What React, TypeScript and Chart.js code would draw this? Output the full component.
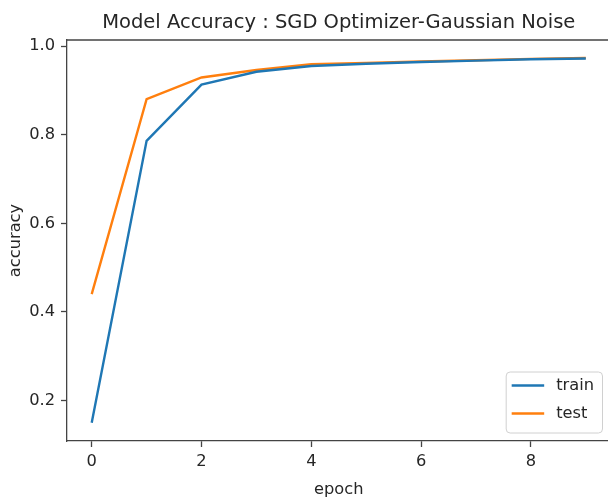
import React, { useEffect, useRef } from "react";
import { Chart, registerables } from "chart.js";

Chart.register(...registerables);

const epochs = [0, 1, 2, 3, 4, 5, 6, 7, 8, 9];
const trainAcc = [0.15, 0.786, 0.913, 0.942, 0.955, 0.96, 0.964, 0.967, 0.97, 0.972];
const testAcc = [0.44, 0.88, 0.929, 0.946, 0.959, 0.962, 0.965, 0.968, 0.971, 0.973];
const xTickValues = [0, 2, 4, 6, 8];
const yTickValues = [0.2, 0.4, 0.6, 0.8, 1.0];
const seriesLabels = ["train", "test"];
const seriesColors = ["#1f77b4", "#ff7f0e"];
const titleText = "Model Accuracy : SGD Optimizer-Gaussian Noise";
const xLabel = "epoch";
const yLabel = "accuracy";

const FAMILY = '"DejaVu Sans", "Liberation Sans", sans-serif';
const TEXT = "#262626";
const SPINE = "#444444";

const framePlugin = {
  id: "mplFrame",
  afterDatasetsDraw(chart: any) {
    const { ctx, chartArea } = chart;
    ctx.save();
    ctx.strokeStyle = SPINE;
    ctx.lineWidth = 1.3;
    ctx.beginPath();
    ctx.moveTo(chartArea.left, chartArea.top);
    ctx.lineTo(chartArea.right, chartArea.top);
    ctx.lineTo(chartArea.right, chartArea.bottom);
    ctx.stroke();
    ctx.restore();
  },
};

const legendPlugin = {
  id: "mplLegend",
  afterDraw(chart: any) {
    const { ctx, chartArea } = chart;
    const fontSize = 16.25;
    ctx.save();
    ctx.font = `${fontSize}px ${FAMILY}`;
    const textW = Math.max(...seriesLabels.map((l) => ctx.measureText(l).width));
    const pad = 0.4 * fontSize;
    const handle = 2 * fontSize;
    const gap = 0.8 * fontSize;
    const rowH = 28;
    const w = pad + handle + gap + textW + pad;
    const h = pad * 2 + rowH * seriesLabels.length - 8;
    const right = chartArea.right - 8;
    const bottom = chartArea.bottom - 8;
    const left = right - w;
    const top = bottom - h;
    ctx.beginPath();
    if ((ctx as any).roundRect) (ctx as any).roundRect(left, top, w, h, 4);
    else ctx.rect(left, top, w, h);
    ctx.fillStyle = "rgba(255,255,255,0.85)";
    ctx.fill();
    ctx.strokeStyle = "#d0d0d0";
    ctx.lineWidth = 1;
    ctx.stroke();
    seriesLabels.forEach((label, i) => {
      const cy = top + pad + 7 + i * rowH;
      ctx.strokeStyle = seriesColors[i];
      ctx.lineWidth = 2.4;
      ctx.beginPath();
      ctx.moveTo(left + pad - 1, cy);
      ctx.lineTo(left + pad - 1 + handle, cy);
      ctx.stroke();
      ctx.fillStyle = TEXT;
      ctx.textBaseline = "middle";
      ctx.textAlign = "left";
      ctx.fillText(label, left + pad + handle + gap - 2, cy);
    });
    ctx.restore();
  },
};

export default function App() {
  const canvasRef = useRef<HTMLCanvasElement | null>(null);

  useEffect(() => {
    const canvas = canvasRef.current;
    if (!canvas) return;
    document.body.style.overflow = "hidden";
    const tickFont = { family: FAMILY, size: 16.25 };
    const chart = new Chart(canvas, {
      type: "line",
      data: {
        datasets: [
          {
            label: seriesLabels[0],
            data: epochs.map((e, i) => ({ x: e, y: trainAcc[i] })),
            borderColor: seriesColors[0],
            backgroundColor: seriesColors[0],
            borderWidth: 2.4,
            pointRadius: 0,
            tension: 0,
            fill: false,
          },
          {
            label: seriesLabels[1],
            data: epochs.map((e, i) => ({ x: e, y: testAcc[i] })),
            borderColor: seriesColors[1],
            backgroundColor: seriesColors[1],
            borderWidth: 2.4,
            pointRadius: 0,
            tension: 0,
            fill: false,
          },
        ],
      },
      options: {
        responsive: false,
        animation: false,
        devicePixelRatio: 1,
        layout: { padding: { left: 0, right: 1.5, top: 0, bottom: 0 } },
        plugins: {
          legend: { display: false },
          tooltip: { enabled: false },
          title: {
            display: true,
            text: titleText,
            fullSize: false,
            color: TEXT,
            font: { family: FAMILY, size: 19.5, weight: "normal" },
            padding: { top: 11.5, bottom: 5.1 },
          },
        },
        scales: {
          x: {
            type: "linear",
            min: -0.45,
            max: 9.45,
            afterBuildTicks: (s: any) => {
              s.ticks = xTickValues.map((v) => ({ value: v }));
            },
            afterFit: (s: any) => {
              s.height = 60;
            },
            grid: { drawOnChartArea: false, drawTicks: true, tickLength: 6, tickColor: SPINE, tickWidth: 1.3 },
            border: { display: true, color: SPINE, width: 1.3 },
            ticks: {
              font: tickFont,
              color: TEXT,
              padding: 5,
              maxRotation: 0,
              autoSkip: false,
              callback: (v: any) => String(v),
            },
            title: { display: true, text: xLabel, color: TEXT, font: tickFont, padding: { top: 0, bottom: 1 } },
          },
          y: {
            type: "linear",
            min: 0.1087,
            max: 1.0136,
            afterBuildTicks: (s: any) => {
              s.ticks = yTickValues.map((v) => ({ value: v }));
            },
            afterFit: (s: any) => {
              s.width = 67;
            },
            grid: { drawOnChartArea: false, drawTicks: true, tickLength: 6, tickColor: SPINE, tickWidth: 1.3 },
            border: { display: true, color: SPINE, width: 1.3 },
            ticks: {
              font: tickFont,
              color: TEXT,
              padding: 6,
              autoSkip: false,
              callback: (v: any) => Number(v).toFixed(1),
            },
            title: { display: true, text: yLabel, color: TEXT, font: tickFont, padding: { top: 6, bottom: 0 } },
          },
        },
      },
      plugins: [framePlugin, legendPlugin],
    } as any);
    return () => chart.destroy();
  }, []);

  return (
    <div style={{ position: "fixed", left: 0, top: 0, width: 608, height: 501, overflow: "hidden", background: "#fff" }}>
      <canvas ref={canvasRef} width={612} height={501} style={{ display: "block", width: 612, height: 501 }} />
    </div>
  );
}
